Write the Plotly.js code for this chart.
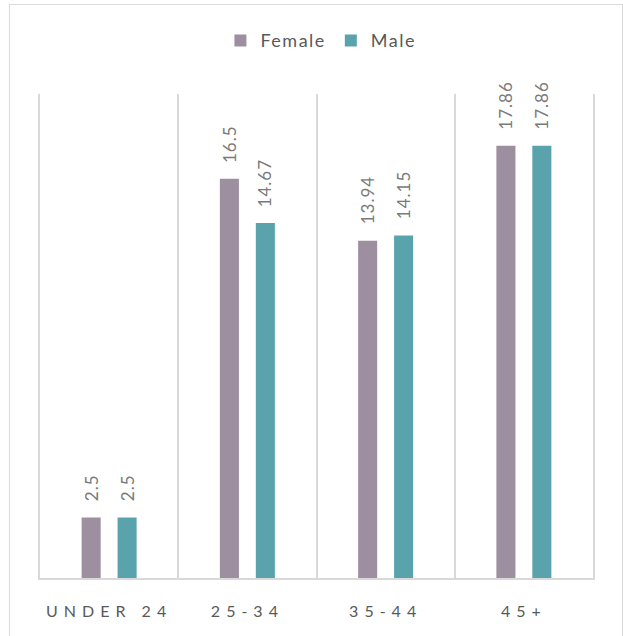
<!DOCTYPE html>
<html>
<head>
<meta charset="utf-8">
<script src="https://cdn.plot.ly/plotly-3.0.1.min.js"></script>
<style>
  html, body { margin: 0; padding: 0; background: #ffffff; }
  #wrap { position: relative; width: 623px; height: 636px; overflow: hidden; }
  #chart { position: absolute; left: 0; top: 0; width: 623px; height: 636px; }
  #frame { position: absolute; left: 9px; top: 4px; width: 612px; height: 660px;
           border: 1.5px solid #d9d9d9; pointer-events: none; }
  .xtick text { letter-spacing: 6px; }
  .legendtext { letter-spacing: 1.5px; }
  .annotation-text { letter-spacing: 1px; }
</style>
</head>
<body>
<div id="wrap">
  <div id="chart"></div>
  <div id="frame"></div>
</div>
<script>
const categories = ['UNDER 24', '25-34', '35-44', '45+'];
const female = [2.5, 16.5, 13.94, 17.86];
const male = [2.5, 14.67, 14.15, 17.86];
const femaleLabels = ['2.5', '16.5', '13.94', '17.86'];
const maleLabels = ['2.5', '14.67', '14.15', '17.86'];

const femaleColor = '#9d8f9f';
const maleColor = '#5aa3ad';

const traces = [
  { type: 'bar', name: 'Female', x: categories, y: female, marker: { color: femaleColor }, hoverinfo: 'none' },
  { type: 'bar', name: 'Male', x: categories, y: male, marker: { color: maleColor }, hoverinfo: 'none' }
];

const annotations = [];
categories.forEach((c, i) => {
  annotations.push({ x: c, y: female[i], xref: 'x', yref: 'y', text: femaleLabels[i], showarrow: false,
    textangle: -90, xanchor: 'center', yanchor: 'bottom', xshift: -18, yshift: 14,
    font: { family: 'Lato, sans-serif', size: 17, color: '#7a7a7a' } });
  annotations.push({ x: c, y: male[i], xref: 'x', yref: 'y', text: maleLabels[i], showarrow: false,
    textangle: -90, xanchor: 'center', yanchor: 'bottom', xshift: 18, yshift: 14,
    font: { family: 'Lato, sans-serif', size: 17, color: '#7a7a7a' } });
});

const layout = {
  width: 623, height: 636,
  margin: { l: 40, r: 30, t: 94, b: 58 },
  paper_bgcolor: '#ffffff', plot_bgcolor: '#ffffff',
  barmode: 'group', bargap: 0.48, bargroupgap: 0.47,
  showlegend: true,
  legend: { orientation: 'h', x: 0.508, xanchor: 'center', y: 1.11, yanchor: 'middle',
    font: { family: 'Lato, sans-serif', size: 18, color: '#595959' }, itemwidth: 30, traceorder: 'normal' },
  xaxis: {
    type: 'category', tickson: 'boundaries', showgrid: true, gridcolor: '#d9d9d9', gridwidth: 2,
    showline: true, linecolor: '#d9d9d9', linewidth: 2, ticks: '', ticklabelstandoff: 18,
    tickfont: { family: 'Lato, sans-serif', size: 16, color: '#595959' }, fixedrange: true
  },
  yaxis: { range: [0, 20], showgrid: false, zeroline: false, showticklabels: false, ticks: '',
    showline: true, linecolor: '#d9d9d9', linewidth: 2, mirror: true, fixedrange: true },
  annotations: annotations,
  font: { family: 'Lato, sans-serif' }
};

Plotly.newPlot('chart', traces, layout, { displayModeBar: false, staticPlot: true });
</script>
</body>
</html>
